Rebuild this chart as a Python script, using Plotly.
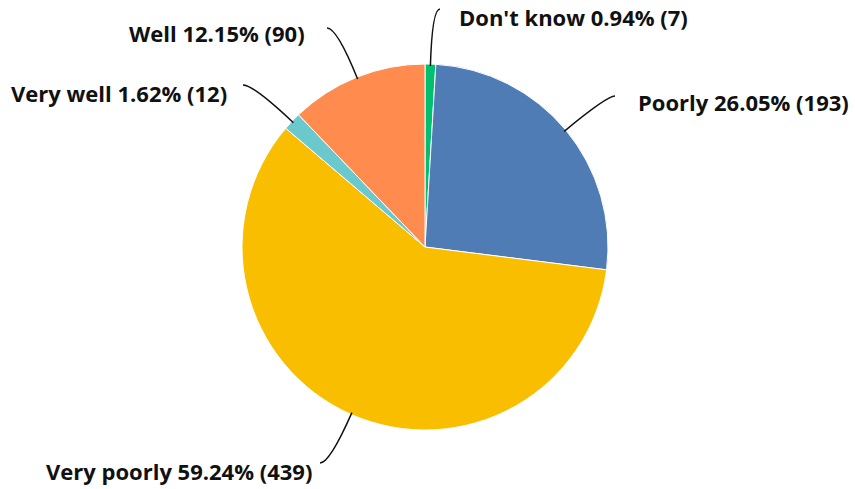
import math
import plotly.graph_objects as go

# ---- data ----
labels = ["Don't know", "Poorly", "Very poorly", "Very well", "Well"]
counts = [7, 193, 439, 12, 90]
colors = ["#00BF6F", "#507CB6", "#F9BE00", "#6BC8CD", "#FF8B4F"]

# ---- layout constants (pixels) ----
W, H = 855, 489
CX, CY, R = 425, 247, 183
# leader line end points, label anchor points and label side
line_ends = [(440, 9), (615, 96), (320, 463), (243, 85), (327, 28)]
label_pos = [(457, 17), (636, 102), (314, 471), (229, 93), (307, 33)]
label_side = ["left", "left", "right", "right", "right"]

total = sum(counts)
fig = go.Figure()
fig.add_trace(go.Pie(
    labels=labels, values=counts, sort=False, direction="clockwise", rotation=0,
    marker=dict(colors=colors, line=dict(color="white", width=1)),
    textinfo="none", hoverinfo="label+value+percent", showlegend=False,
    domain=dict(x=[(CX - R) / W, (CX + R) / W], y=[1 - (CY + R) / H, 1 - (CY - R) / H]),
))

shapes = []
annotations = []
cum = 0
for lab, v, (ex, ey), (lx, ly), anc in zip(labels, counts, line_ends, label_pos, label_side):
    mid = (cum + v / 2) / total * 2 * math.pi
    cum += v
    dx, dy = math.sin(mid), -math.cos(mid)
    sx, sy = CX + (R - 2) * dx, CY + (R - 2) * dy
    t = (ey - sy) / dy
    qx, qy = sx + t * dx, ey
    shapes.append(dict(type="path", xref="x", yref="y",
                       path=f"M {sx:.1f},{sy:.1f} Q {qx:.1f},{qy:.1f} {ex:.1f},{ey:.1f}",
                       line=dict(color="#111111", width=1.5)))
    pct = v / total * 100
    txt = f"{lab} {pct:.2f}% ({v})"
    annotations.append(dict(x=lx, y=ly, xref="x", yref="y", text=txt,
                            xanchor=anc, yanchor="middle", showarrow=False))

fig.update_layout(
    width=W, height=H, margin=dict(l=0, r=0, t=0, b=0),
    paper_bgcolor="white", plot_bgcolor="rgba(0,0,0,0)",
    xaxis=dict(range=[0, W], visible=False, fixedrange=True),
    yaxis=dict(range=[H, 0], visible=False, fixedrange=True),
    shapes=shapes, annotations=annotations,
    font=dict(family="Open Sans", size=22, color="#111111", weight=700),
)
fig.write_html("out.html", config={"displayModeBar": False},
               post_script="document.body.style.margin='0';document.body.style.overflow='hidden';")
